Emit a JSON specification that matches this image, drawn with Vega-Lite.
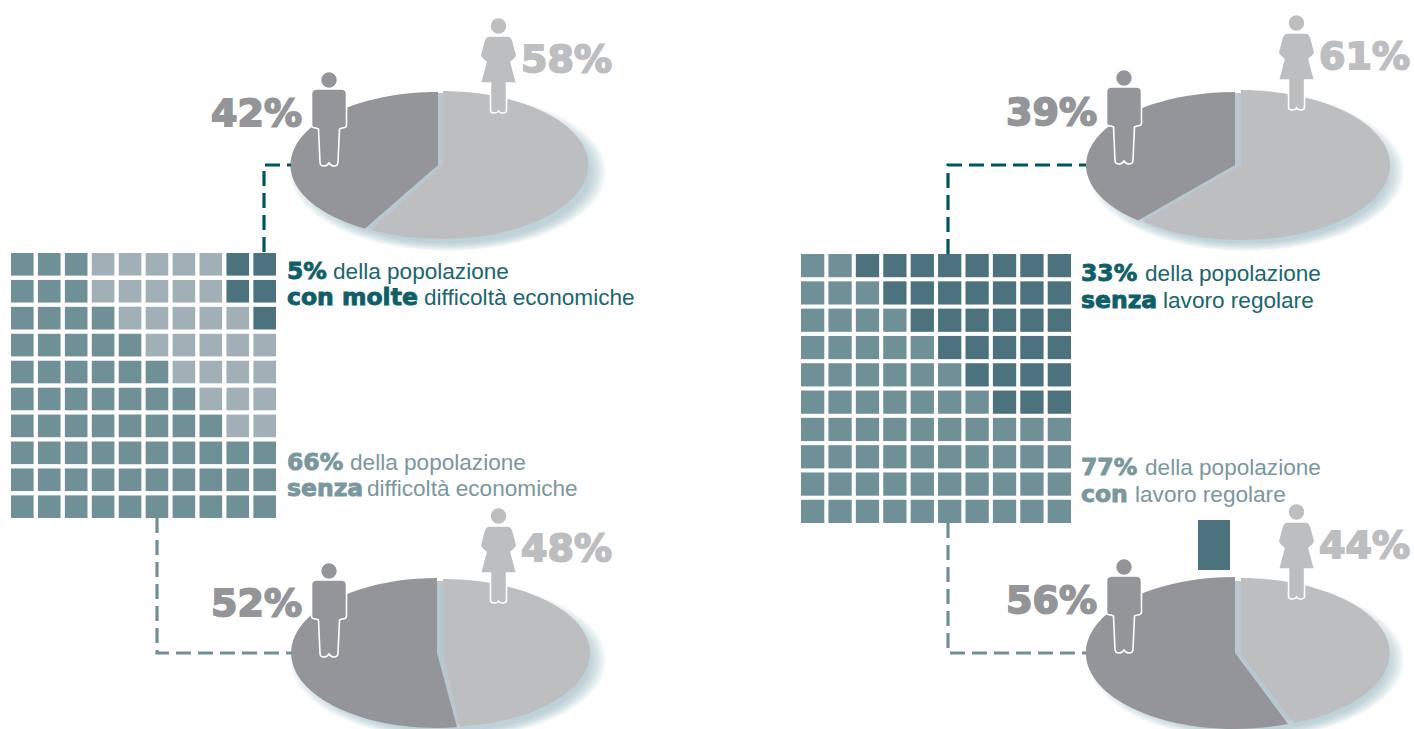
{"$schema":"https://vega.github.io/schema/vega-lite/v6.json","width":1414,"height":729,"padding":0,"autosize":{"type":"none"},"background":"white","config":{"view":{"stroke":null}},
"datasets":{
"people":[{"panel":"left","group":"top","gender":"uomini","label":"42%","slice":"lt-u"},{"panel":"left","group":"top","gender":"donne","label":"58%","slice":"lt-d"},{"panel":"left","group":"bottom","gender":"uomini","label":"52%","slice":"lb-u"},{"panel":"left","group":"bottom","gender":"donne","label":"48%","slice":"lb-d"},{"panel":"right","group":"top","gender":"uomini","label":"39%","slice":"rt-u"},{"panel":"right","group":"top","gender":"donne","label":"61%","slice":"rt-d"},{"panel":"right","group":"bottom","gender":"uomini","label":"56%","slice":"rb-u"},{"panel":"right","group":"bottom","gender":"donne","label":"44%","slice":"rb-d"}],
"pies":[{"panel":"left","group":"top"},{"panel":"left","group":"bottom"},{"panel":"right","group":"top"},{"panel":"right","group":"bottom"}],
"halo":[{"panel":"left","group":"top","level":1},{"panel":"left","group":"top","level":2},{"panel":"left","group":"top","level":3},{"panel":"left","group":"top","level":4},{"panel":"left","group":"top","level":5},{"panel":"left","group":"top","level":6},{"panel":"left","group":"top","level":7},{"panel":"left","group":"top","level":8},{"panel":"left","group":"bottom","level":1},{"panel":"left","group":"bottom","level":2},{"panel":"left","group":"bottom","level":3},{"panel":"left","group":"bottom","level":4},{"panel":"left","group":"bottom","level":5},{"panel":"left","group":"bottom","level":6},{"panel":"left","group":"bottom","level":7},{"panel":"left","group":"bottom","level":8},{"panel":"right","group":"top","level":1},{"panel":"right","group":"top","level":2},{"panel":"right","group":"top","level":3},{"panel":"right","group":"top","level":4},{"panel":"right","group":"top","level":5},{"panel":"right","group":"top","level":6},{"panel":"right","group":"top","level":7},{"panel":"right","group":"top","level":8},{"panel":"right","group":"bottom","level":1},{"panel":"right","group":"bottom","level":2},{"panel":"right","group":"bottom","level":3},{"panel":"right","group":"bottom","level":4},{"panel":"right","group":"bottom","level":5},{"panel":"right","group":"bottom","level":6},{"panel":"right","group":"bottom","level":7},{"panel":"right","group":"bottom","level":8}],
"link":[{"step":1,"xnode":"griglia","ynode":"griglia"},{"step":2,"xnode":"griglia","ynode":"torta"},{"step":3,"xnode":"torta","ynode":"torta"}],
"captions":[{"panel":"left","block":"upper","line":1,"lead":"5%","rest":"della popolazione"},{"panel":"left","block":"upper","line":2,"lead":"con molte","rest":"difficoltà economiche"},{"panel":"left","block":"lower","line":1,"lead":"66%","rest":"della popolazione"},{"panel":"left","block":"lower","line":2,"lead":"senza","rest":"difficoltà economiche"},{"panel":"right","block":"upper","line":1,"lead":"33%","rest":"della popolazione"},{"panel":"right","block":"upper","line":2,"lead":"senza","rest":"lavoro regolare"},{"panel":"right","block":"lower","line":1,"lead":"77%","rest":"della popolazione"},{"panel":"right","block":"lower","line":2,"lead":"con","rest":"lavoro regolare"}],
"box":[{"item":"blocco"}],
"wl":[
{"row":0,"col":0,"group":"base"},{"row":0,"col":1,"group":"base"},{"row":0,"col":2,"group":"base"},{"row":0,"col":3,"group":"altri"},{"row":0,"col":4,"group":"altri"},{"row":0,"col":5,"group":"altri"},{"row":0,"col":6,"group":"altri"},{"row":0,"col":7,"group":"altri"},{"row":0,"col":8,"group":"critici"},{"row":0,"col":9,"group":"critici"},
{"row":1,"col":0,"group":"base"},{"row":1,"col":1,"group":"base"},{"row":1,"col":2,"group":"base"},{"row":1,"col":3,"group":"altri"},{"row":1,"col":4,"group":"altri"},{"row":1,"col":5,"group":"altri"},{"row":1,"col":6,"group":"altri"},{"row":1,"col":7,"group":"altri"},{"row":1,"col":8,"group":"critici"},{"row":1,"col":9,"group":"critici"},
{"row":2,"col":0,"group":"base"},{"row":2,"col":1,"group":"base"},{"row":2,"col":2,"group":"base"},{"row":2,"col":3,"group":"base"},{"row":2,"col":4,"group":"altri"},{"row":2,"col":5,"group":"altri"},{"row":2,"col":6,"group":"altri"},{"row":2,"col":7,"group":"altri"},{"row":2,"col":8,"group":"altri"},{"row":2,"col":9,"group":"critici"},
{"row":3,"col":0,"group":"base"},{"row":3,"col":1,"group":"base"},{"row":3,"col":2,"group":"base"},{"row":3,"col":3,"group":"base"},{"row":3,"col":4,"group":"base"},{"row":3,"col":5,"group":"altri"},{"row":3,"col":6,"group":"altri"},{"row":3,"col":7,"group":"altri"},{"row":3,"col":8,"group":"altri"},{"row":3,"col":9,"group":"altri"},
{"row":4,"col":0,"group":"base"},{"row":4,"col":1,"group":"base"},{"row":4,"col":2,"group":"base"},{"row":4,"col":3,"group":"base"},{"row":4,"col":4,"group":"base"},{"row":4,"col":5,"group":"base"},{"row":4,"col":6,"group":"altri"},{"row":4,"col":7,"group":"altri"},{"row":4,"col":8,"group":"altri"},{"row":4,"col":9,"group":"altri"},
{"row":5,"col":0,"group":"base"},{"row":5,"col":1,"group":"base"},{"row":5,"col":2,"group":"base"},{"row":5,"col":3,"group":"base"},{"row":5,"col":4,"group":"base"},{"row":5,"col":5,"group":"base"},{"row":5,"col":6,"group":"base"},{"row":5,"col":7,"group":"altri"},{"row":5,"col":8,"group":"altri"},{"row":5,"col":9,"group":"altri"},
{"row":6,"col":0,"group":"base"},{"row":6,"col":1,"group":"base"},{"row":6,"col":2,"group":"base"},{"row":6,"col":3,"group":"base"},{"row":6,"col":4,"group":"base"},{"row":6,"col":5,"group":"base"},{"row":6,"col":6,"group":"base"},{"row":6,"col":7,"group":"base"},{"row":6,"col":8,"group":"altri"},{"row":6,"col":9,"group":"altri"},
{"row":7,"col":0,"group":"base"},{"row":7,"col":1,"group":"base"},{"row":7,"col":2,"group":"base"},{"row":7,"col":3,"group":"base"},{"row":7,"col":4,"group":"base"},{"row":7,"col":5,"group":"base"},{"row":7,"col":6,"group":"base"},{"row":7,"col":7,"group":"base"},{"row":7,"col":8,"group":"base"},{"row":7,"col":9,"group":"base"},
{"row":8,"col":0,"group":"base"},{"row":8,"col":1,"group":"base"},{"row":8,"col":2,"group":"base"},{"row":8,"col":3,"group":"base"},{"row":8,"col":4,"group":"base"},{"row":8,"col":5,"group":"base"},{"row":8,"col":6,"group":"base"},{"row":8,"col":7,"group":"base"},{"row":8,"col":8,"group":"base"},{"row":8,"col":9,"group":"base"},
{"row":9,"col":0,"group":"base"},{"row":9,"col":1,"group":"base"},{"row":9,"col":2,"group":"base"},{"row":9,"col":3,"group":"base"},{"row":9,"col":4,"group":"base"},{"row":9,"col":5,"group":"base"},{"row":9,"col":6,"group":"base"},{"row":9,"col":7,"group":"base"},{"row":9,"col":8,"group":"base"},{"row":9,"col":9,"group":"base"}],
"wr":[
{"row":0,"col":0,"group":"base"},{"row":0,"col":1,"group":"base"},{"row":0,"col":2,"group":"critici"},{"row":0,"col":3,"group":"critici"},{"row":0,"col":4,"group":"critici"},{"row":0,"col":5,"group":"critici"},{"row":0,"col":6,"group":"critici"},{"row":0,"col":7,"group":"critici"},{"row":0,"col":8,"group":"critici"},{"row":0,"col":9,"group":"critici"},
{"row":1,"col":0,"group":"base"},{"row":1,"col":1,"group":"base"},{"row":1,"col":2,"group":"base"},{"row":1,"col":3,"group":"critici"},{"row":1,"col":4,"group":"critici"},{"row":1,"col":5,"group":"critici"},{"row":1,"col":6,"group":"critici"},{"row":1,"col":7,"group":"critici"},{"row":1,"col":8,"group":"critici"},{"row":1,"col":9,"group":"critici"},
{"row":2,"col":0,"group":"base"},{"row":2,"col":1,"group":"base"},{"row":2,"col":2,"group":"base"},{"row":2,"col":3,"group":"base"},{"row":2,"col":4,"group":"critici"},{"row":2,"col":5,"group":"critici"},{"row":2,"col":6,"group":"critici"},{"row":2,"col":7,"group":"critici"},{"row":2,"col":8,"group":"critici"},{"row":2,"col":9,"group":"critici"},
{"row":3,"col":0,"group":"base"},{"row":3,"col":1,"group":"base"},{"row":3,"col":2,"group":"base"},{"row":3,"col":3,"group":"base"},{"row":3,"col":4,"group":"base"},{"row":3,"col":5,"group":"critici"},{"row":3,"col":6,"group":"critici"},{"row":3,"col":7,"group":"critici"},{"row":3,"col":8,"group":"critici"},{"row":3,"col":9,"group":"critici"},
{"row":4,"col":0,"group":"base"},{"row":4,"col":1,"group":"base"},{"row":4,"col":2,"group":"base"},{"row":4,"col":3,"group":"base"},{"row":4,"col":4,"group":"base"},{"row":4,"col":5,"group":"base"},{"row":4,"col":6,"group":"critici"},{"row":4,"col":7,"group":"critici"},{"row":4,"col":8,"group":"critici"},{"row":4,"col":9,"group":"critici"},
{"row":5,"col":0,"group":"base"},{"row":5,"col":1,"group":"base"},{"row":5,"col":2,"group":"base"},{"row":5,"col":3,"group":"base"},{"row":5,"col":4,"group":"base"},{"row":5,"col":5,"group":"base"},{"row":5,"col":6,"group":"base"},{"row":5,"col":7,"group":"critici"},{"row":5,"col":8,"group":"critici"},{"row":5,"col":9,"group":"critici"},
{"row":6,"col":0,"group":"base"},{"row":6,"col":1,"group":"base"},{"row":6,"col":2,"group":"base"},{"row":6,"col":3,"group":"base"},{"row":6,"col":4,"group":"base"},{"row":6,"col":5,"group":"base"},{"row":6,"col":6,"group":"base"},{"row":6,"col":7,"group":"base"},{"row":6,"col":8,"group":"base"},{"row":6,"col":9,"group":"base"},
{"row":7,"col":0,"group":"base"},{"row":7,"col":1,"group":"base"},{"row":7,"col":2,"group":"base"},{"row":7,"col":3,"group":"base"},{"row":7,"col":4,"group":"base"},{"row":7,"col":5,"group":"base"},{"row":7,"col":6,"group":"base"},{"row":7,"col":7,"group":"base"},{"row":7,"col":8,"group":"base"},{"row":7,"col":9,"group":"base"},
{"row":8,"col":0,"group":"base"},{"row":8,"col":1,"group":"base"},{"row":8,"col":2,"group":"base"},{"row":8,"col":3,"group":"base"},{"row":8,"col":4,"group":"base"},{"row":8,"col":5,"group":"base"},{"row":8,"col":6,"group":"base"},{"row":8,"col":7,"group":"base"},{"row":8,"col":8,"group":"base"},{"row":8,"col":9,"group":"base"},
{"row":9,"col":0,"group":"base"},{"row":9,"col":1,"group":"base"},{"row":9,"col":2,"group":"base"},{"row":9,"col":3,"group":"base"},{"row":9,"col":4,"group":"base"},{"row":9,"col":5,"group":"base"},{"row":9,"col":6,"group":"base"},{"row":9,"col":7,"group":"base"},{"row":9,"col":8,"group":"base"},{"row":9,"col":9,"group":"base"}]
},
"resolve":{"scale":{"x":"independent","y":"independent"}},
"layer":[
{"data":{"name":"halo"},"mark":{"type":"point","filled":true,"shape":"M-1.48,0 A1.48,0.74 0 1 1 1.48,0 A1.48,0.74 0 1 1 -1.48,0 Z","fill":"#7f9cab","opacity":0.075,"stroke":null},
"encoding":{"x":{"field":"panel","type":"nominal","axis":null,"scale":{"type":"point","domain":["left","right"],"range":[448,1246],"padding":0}},"y":{"field":"group","type":"nominal","axis":null,"scale":{"type":"point","domain":["top","bottom"],"range":[172,660],"padding":0}},"size":{"field":"level","type":"quantitative","legend":null,"scale":{"domain":[1,8],"range":[37000,45500]}}}},
{"data":{"name":"pies"},"mark":{"type":"point","filled":true,"shape":"M-1.46,0 A1.46,0.72 0 1 1 1.46,0 A1.46,0.72 0 1 1 -1.46,0 Z","fill":"#b9c8ce","opacity":1,"size":40000,"stroke":null},
"encoding":{"x":{"field":"panel","type":"nominal","axis":null,"scale":{"type":"point","domain":["left","right"],"range":[440,1238],"padding":0}},"y":{"field":"group","type":"nominal","axis":null,"scale":{"type":"point","domain":["top","bottom"],"range":[165,653],"padding":0}}}},
{"data":{"name":"people"},"mark":{"type":"point","filled":true,"opacity":1,"size":40000,"stroke":null},
"encoding":{"x":{"field":"panel","type":"nominal","axis":null,"scale":{"type":"point","domain":["left","right"],"range":[440,1238],"padding":0}},"y":{"field":"group","type":"nominal","axis":null,"scale":{"type":"point","domain":["top","bottom"],"range":[165,653],"padding":0}},
"fill":{"field":"gender","type":"nominal","legend":null,"scale":{"domain":["uomini","donne"],"range":["#939598","#bcbec0"]}},
"shape":{"field":"slice","type":"nominal","legend":null,"scale":{"domain":["lt-u","lt-d","lb-u","lb-d","rt-u","rt-d","rb-u","rb-d"],"range":[
"M-0.02,0 L-0.02,-0.73 A1.47,0.73 0 0 0 -0.75,0.635 Z",
"M0.03,0 L0.03,-0.74 A1.47,0.74 0 1 1 -0.69,0.65 Z",
"M-0.03,0 L-0.03,-0.75 A1.46,0.75 0 1 0 0.17,0.743 Z",
"M0.03,0 L0.03,-0.74 A1.47,0.74 0 0 1 0.2,0.735 Z",
"M-0.03,0 L-0.03,-0.73 A1.49,0.73 0 0 0 -1.0,0.554 Z",
"M0.03,0 L0.03,-0.75 A1.49,0.75 0 1 1 -0.95,0.565 Z",
"M-0.03,0 L-0.03,-0.76 A1.49,0.76 0 1 0 0.5,0.71 Z",
"M0.03,0 L0.03,-0.75 A1.49,0.75 0 0 1 0.56,0.7 Z"]}}}},
{"data":{"name":"wl"},"mark":{"type":"rect"},"encoding":{"x":{"field":"col","type":"ordinal","axis":null,"scale":{"type":"band","range":[11,276],"paddingInner":0.16,"paddingOuter":0}},"y":{"field":"row","type":"ordinal","axis":null,"scale":{"type":"band","range":[253,518],"paddingInner":0.16,"paddingOuter":0}},"color":{"field":"group","type":"nominal","legend":null,"scale":{"domain":["base","altri","critici"],"range":["#6f9096","#a1b0b7","#4c727d"]}}}},
{"data":{"name":"wr"},"mark":{"type":"rect"},"encoding":{"x":{"field":"col","type":"ordinal","axis":null,"scale":{"type":"band","range":[801,1071],"paddingInner":0.15,"paddingOuter":0}},"y":{"field":"row","type":"ordinal","axis":null,"scale":{"type":"band","range":[254,523],"paddingInner":0.15,"paddingOuter":0}},"color":{"field":"group","type":"nominal","legend":null,"scale":{"domain":["base","altri","critici"],"range":["#6f9096","#a1b0b7","#4c727d"]}}}},
{"data":{"name":"box"},"mark":{"type":"rect","color":"#4c727d"},"encoding":{"x":{"field":"item","type":"nominal","axis":null,"scale":{"type":"band","range":[1198,1230],"padding":0}},"y":{"field":"item","type":"nominal","axis":null,"scale":{"type":"band","range":[520,570],"padding":0}}}},
{"data":{"name":"link"},"mark":{"type":"line","color":"#00565f","strokeWidth":3.2,"strokeDash":[15,7]},"encoding":{"order":{"field":"step"},"x":{"field":"xnode","type":"nominal","axis":null,"scale":{"type":"point","domain":["griglia","torta"],"range":[264,291],"padding":0}},"y":{"field":"ynode","type":"nominal","axis":null,"scale":{"type":"point","domain":["griglia","torta"],"range":[252,165],"padding":0}}}},
{"data":{"name":"link"},"mark":{"type":"line","color":"#6f9096","strokeWidth":3.2,"strokeDash":[15,7]},"encoding":{"order":{"field":"step"},"x":{"field":"xnode","type":"nominal","axis":null,"scale":{"type":"point","domain":["griglia","torta"],"range":[157,292],"padding":0}},"y":{"field":"ynode","type":"nominal","axis":null,"scale":{"type":"point","domain":["griglia","torta"],"range":[518,653],"padding":0}}}},
{"data":{"name":"link"},"mark":{"type":"line","color":"#00565f","strokeWidth":3.2,"strokeDash":[15,7]},"encoding":{"order":{"field":"step"},"x":{"field":"xnode","type":"nominal","axis":null,"scale":{"type":"point","domain":["griglia","torta"],"range":[948,1086],"padding":0}},"y":{"field":"ynode","type":"nominal","axis":null,"scale":{"type":"point","domain":["griglia","torta"],"range":[254,165],"padding":0}}}},
{"data":{"name":"link"},"mark":{"type":"line","color":"#6f9096","strokeWidth":3.2,"strokeDash":[15,7]},"encoding":{"order":{"field":"step"},"x":{"field":"xnode","type":"nominal","axis":null,"scale":{"type":"point","domain":["griglia","torta"],"range":[948,1086],"padding":0}},"y":{"field":"ynode","type":"nominal","axis":null,"scale":{"type":"point","domain":["griglia","torta"],"range":[523,653],"padding":0}}}},
{"data":{"name":"people"},"transform":[{"filter":"datum.gender=='uomini' && datum.panel=='left'"}],"mark":{"type":"point","filled":true,"opacity":1,"size":40000,"fill":"#939598","stroke":"white","strokeWidth":1.6,"shape":"M-0.085,-0.4 A0.085,0.085 0 1 1 0.085,-0.4 A0.085,0.085 0 1 1 -0.085,-0.4 Z M-0.12,-0.31 L0.12,-0.31 Q0.175,-0.31 0.175,-0.26 L0.175,0.05 Q0.175,0.08 0.13,0.08 L0.105,0.09 L0.09,0.42 Q0.09,0.46 0.05,0.46 Q0.02,0.46 0,0.43 Q-0.02,0.46 -0.05,0.46 Q-0.09,0.46 -0.09,0.42 L-0.105,0.09 L-0.13,0.08 Q-0.175,0.08 -0.175,0.05 L-0.175,-0.26 Q-0.175,-0.31 -0.12,-0.31 Z"},"encoding":{"x":{"field":"panel","type":"nominal","axis":null,"scale":{"type":"point","domain":["left","right"],"range":[329,1124],"padding":0}},"y":{"field":"group","type":"nominal","axis":null,"scale":{"type":"point","domain":["top","bottom"],"range":[120,611],"padding":0}}}},
{"data":{"name":"people"},"transform":[{"filter":"datum.gender=='uomini' && datum.panel=='right'"}],"mark":{"type":"point","filled":true,"opacity":1,"size":40000,"fill":"#939598","stroke":"white","strokeWidth":1.6,"shape":"M-0.085,-0.4 A0.085,0.085 0 1 1 0.085,-0.4 A0.085,0.085 0 1 1 -0.085,-0.4 Z M-0.12,-0.31 L0.12,-0.31 Q0.175,-0.31 0.175,-0.26 L0.175,0.05 Q0.175,0.08 0.13,0.08 L0.105,0.09 L0.09,0.42 Q0.09,0.46 0.05,0.46 Q0.02,0.46 0,0.43 Q-0.02,0.46 -0.05,0.46 Q-0.09,0.46 -0.09,0.42 L-0.105,0.09 L-0.13,0.08 Q-0.175,0.08 -0.175,0.05 L-0.175,-0.26 Q-0.175,-0.31 -0.12,-0.31 Z"},"encoding":{"x":{"field":"panel","type":"nominal","axis":null,"scale":{"type":"point","domain":["left","right"],"range":[329,1124],"padding":0}},"y":{"field":"group","type":"nominal","axis":null,"scale":{"type":"point","domain":["top","bottom"],"range":[118,607],"padding":0}}}},
{"data":{"name":"people"},"transform":[{"filter":"datum.gender=='donne' && datum.panel=='left'"}],"mark":{"type":"point","filled":true,"opacity":1,"size":40000,"fill":"#bcbec0","stroke":"white","strokeWidth":1.6,"shape":"M-0.085,-0.44 A0.085,0.085 0 1 1 0.085,-0.44 A0.085,0.085 0 1 1 -0.085,-0.44 Z M-0.09,-0.34 L0.09,-0.34 Q0.13,-0.34 0.145,-0.29 L0.18,-0.16 Q0.19,-0.14 0.16,-0.11 L0.125,-0.08 L0.18,0.13 L0.08,0.13 L0.08,0.4 Q0.08,0.43 0.045,0.43 Q0.01,0.43 0,0.41 Q-0.01,0.43 -0.045,0.43 Q-0.08,0.43 -0.08,0.4 L-0.08,0.13 L-0.18,0.13 L-0.125,-0.08 L-0.16,-0.11 Q-0.19,-0.14 -0.18,-0.16 L-0.145,-0.29 Q-0.13,-0.34 -0.09,-0.34 Z"},"encoding":{"x":{"field":"panel","type":"nominal","axis":null,"scale":{"type":"point","domain":["left","right"],"range":[498.5,1296.5],"padding":0}},"y":{"field":"group","type":"nominal","axis":null,"scale":{"type":"point","domain":["top","bottom"],"range":[70,560],"padding":0}}}},
{"data":{"name":"people"},"transform":[{"filter":"datum.gender=='donne' && datum.panel=='right'"}],"mark":{"type":"point","filled":true,"opacity":1,"size":40000,"fill":"#bcbec0","stroke":"white","strokeWidth":1.6,"shape":"M-0.085,-0.44 A0.085,0.085 0 1 1 0.085,-0.44 A0.085,0.085 0 1 1 -0.085,-0.44 Z M-0.09,-0.34 L0.09,-0.34 Q0.13,-0.34 0.145,-0.29 L0.18,-0.16 Q0.19,-0.14 0.16,-0.11 L0.125,-0.08 L0.18,0.13 L0.08,0.13 L0.08,0.4 Q0.08,0.43 0.045,0.43 Q0.01,0.43 0,0.41 Q-0.01,0.43 -0.045,0.43 Q-0.08,0.43 -0.08,0.4 L-0.08,0.13 L-0.18,0.13 L-0.125,-0.08 L-0.16,-0.11 Q-0.19,-0.14 -0.18,-0.16 L-0.145,-0.29 Q-0.13,-0.34 -0.09,-0.34 Z"},"encoding":{"x":{"field":"panel","type":"nominal","axis":null,"scale":{"type":"point","domain":["left","right"],"range":[498.5,1296.5],"padding":0}},"y":{"field":"group","type":"nominal","axis":null,"scale":{"type":"point","domain":["top","bottom"],"range":[67,556],"padding":0}}}},
{"data":{"name":"people"},"transform":[{"filter":"datum.gender=='uomini' && datum.panel=='left'"}],"mark":{"type":"text","font":"DejaVu Sans","fontWeight":"bold","fontSize":38,"align":"right","baseline":"alphabetic","color":"#939598","stroke":"#939598","strokeWidth":1.8},"encoding":{"text":{"field":"label"},"x":{"field":"panel","type":"nominal","axis":null,"scale":{"type":"point","domain":["left","right"],"range":[302,1097],"padding":0}},"y":{"field":"group","type":"nominal","axis":null,"scale":{"type":"point","domain":["top","bottom"],"range":[126,616],"padding":0}}}},
{"data":{"name":"people"},"transform":[{"filter":"datum.gender=='uomini' && datum.panel=='right'"}],"mark":{"type":"text","font":"DejaVu Sans","fontWeight":"bold","fontSize":38,"align":"right","baseline":"alphabetic","color":"#939598","stroke":"#939598","strokeWidth":1.8},"encoding":{"text":{"field":"label"},"x":{"field":"panel","type":"nominal","axis":null,"scale":{"type":"point","domain":["left","right"],"range":[302,1097],"padding":0}},"y":{"field":"group","type":"nominal","axis":null,"scale":{"type":"point","domain":["top","bottom"],"range":[125,613],"padding":0}}}},
{"data":{"name":"people"},"transform":[{"filter":"datum.gender=='donne' && datum.panel=='left'"}],"mark":{"type":"text","font":"DejaVu Sans","fontWeight":"bold","fontSize":38,"align":"left","baseline":"alphabetic","color":"#bcbec0","stroke":"#bcbec0","strokeWidth":1.8},"encoding":{"text":{"field":"label"},"x":{"field":"panel","type":"nominal","axis":null,"scale":{"type":"point","domain":["left","right"],"range":[521,1319],"padding":0}},"y":{"field":"group","type":"nominal","axis":null,"scale":{"type":"point","domain":["top","bottom"],"range":[72,561],"padding":0}}}},
{"data":{"name":"people"},"transform":[{"filter":"datum.gender=='donne' && datum.panel=='right'"}],"mark":{"type":"text","font":"DejaVu Sans","fontWeight":"bold","fontSize":38,"align":"left","baseline":"alphabetic","color":"#bcbec0","stroke":"#bcbec0","strokeWidth":1.8},"encoding":{"text":{"field":"label"},"x":{"field":"panel","type":"nominal","axis":null,"scale":{"type":"point","domain":["left","right"],"range":[521,1319],"padding":0}},"y":{"field":"group","type":"nominal","axis":null,"scale":{"type":"point","domain":["top","bottom"],"range":[69,558],"padding":0}}}},
{"data":{"name":"captions"},"transform":[{"filter":"datum.panel=='left' && datum.block=='upper'"}],"mark":{"type":"text","font":"DejaVu Sans","fontWeight":"bold","fontSize":23.5,"align":"left","baseline":"alphabetic","color":"#0f5f68","stroke":"#0f5f68","strokeWidth":0.9},"encoding":{"text":{"field":"lead"},"x":{"field":"line","type":"nominal","axis":null,"scale":{"type":"point","domain":[1,2],"range":[287,287],"padding":0}},"y":{"field":"line","type":"nominal","axis":null,"scale":{"type":"point","domain":[1,2],"range":[279,305],"padding":0}}}},
{"data":{"name":"captions"},"transform":[{"filter":"datum.panel=='left' && datum.block=='upper'"}],"mark":{"type":"text","font":"Liberation Sans","fontSize":22.6,"align":"left","baseline":"alphabetic","color":"#1a666e"},"encoding":{"text":{"field":"rest"},"x":{"field":"line","type":"nominal","axis":null,"scale":{"type":"point","domain":[1,2],"range":[333,424],"padding":0}},"y":{"field":"line","type":"nominal","axis":null,"scale":{"type":"point","domain":[1,2],"range":[279,305],"padding":0}}}},
{"data":{"name":"captions"},"transform":[{"filter":"datum.panel=='left' && datum.block=='lower'"}],"mark":{"type":"text","font":"DejaVu Sans","fontWeight":"bold","fontSize":23.5,"align":"left","baseline":"alphabetic","color":"#7a979e","stroke":"#7a979e","strokeWidth":0.9},"encoding":{"text":{"field":"lead"},"x":{"field":"line","type":"nominal","axis":null,"scale":{"type":"point","domain":[1,2],"range":[287,287],"padding":0}},"y":{"field":"line","type":"nominal","axis":null,"scale":{"type":"point","domain":[1,2],"range":[470,496],"padding":0}}}},
{"data":{"name":"captions"},"transform":[{"filter":"datum.panel=='left' && datum.block=='lower'"}],"mark":{"type":"text","font":"Liberation Sans","fontSize":22.6,"align":"left","baseline":"alphabetic","color":"#7a979e"},"encoding":{"text":{"field":"rest"},"x":{"field":"line","type":"nominal","axis":null,"scale":{"type":"point","domain":[1,2],"range":[350,367],"padding":0}},"y":{"field":"line","type":"nominal","axis":null,"scale":{"type":"point","domain":[1,2],"range":[470,496],"padding":0}}}},
{"data":{"name":"captions"},"transform":[{"filter":"datum.panel=='right' && datum.block=='upper'"}],"mark":{"type":"text","font":"DejaVu Sans","fontWeight":"bold","fontSize":23.5,"align":"left","baseline":"alphabetic","color":"#0f5f68","stroke":"#0f5f68","strokeWidth":0.9},"encoding":{"text":{"field":"lead"},"x":{"field":"line","type":"nominal","axis":null,"scale":{"type":"point","domain":[1,2],"range":[1081,1081],"padding":0}},"y":{"field":"line","type":"nominal","axis":null,"scale":{"type":"point","domain":[1,2],"range":[281,308],"padding":0}}}},
{"data":{"name":"captions"},"transform":[{"filter":"datum.panel=='right' && datum.block=='upper'"}],"mark":{"type":"text","font":"Liberation Sans","fontSize":22.6,"align":"left","baseline":"alphabetic","color":"#1a666e"},"encoding":{"text":{"field":"rest"},"x":{"field":"line","type":"nominal","axis":null,"scale":{"type":"point","domain":[1,2],"range":[1145,1163],"padding":0}},"y":{"field":"line","type":"nominal","axis":null,"scale":{"type":"point","domain":[1,2],"range":[281,308],"padding":0}}}},
{"data":{"name":"captions"},"transform":[{"filter":"datum.panel=='right' && datum.block=='lower'"}],"mark":{"type":"text","font":"DejaVu Sans","fontWeight":"bold","fontSize":23.5,"align":"left","baseline":"alphabetic","color":"#7a979e","stroke":"#7a979e","strokeWidth":0.9},"encoding":{"text":{"field":"lead"},"x":{"field":"line","type":"nominal","axis":null,"scale":{"type":"point","domain":[1,2],"range":[1081,1081],"padding":0}},"y":{"field":"line","type":"nominal","axis":null,"scale":{"type":"point","domain":[1,2],"range":[475,502],"padding":0}}}},
{"data":{"name":"captions"},"transform":[{"filter":"datum.panel=='right' && datum.block=='lower'"}],"mark":{"type":"text","font":"Liberation Sans","fontSize":22.6,"align":"left","baseline":"alphabetic","color":"#7a979e"},"encoding":{"text":{"field":"rest"},"x":{"field":"line","type":"nominal","axis":null,"scale":{"type":"point","domain":[1,2],"range":[1145,1135],"padding":0}},"y":{"field":"line","type":"nominal","axis":null,"scale":{"type":"point","domain":[1,2],"range":[475,502],"padding":0}}}}
]}
